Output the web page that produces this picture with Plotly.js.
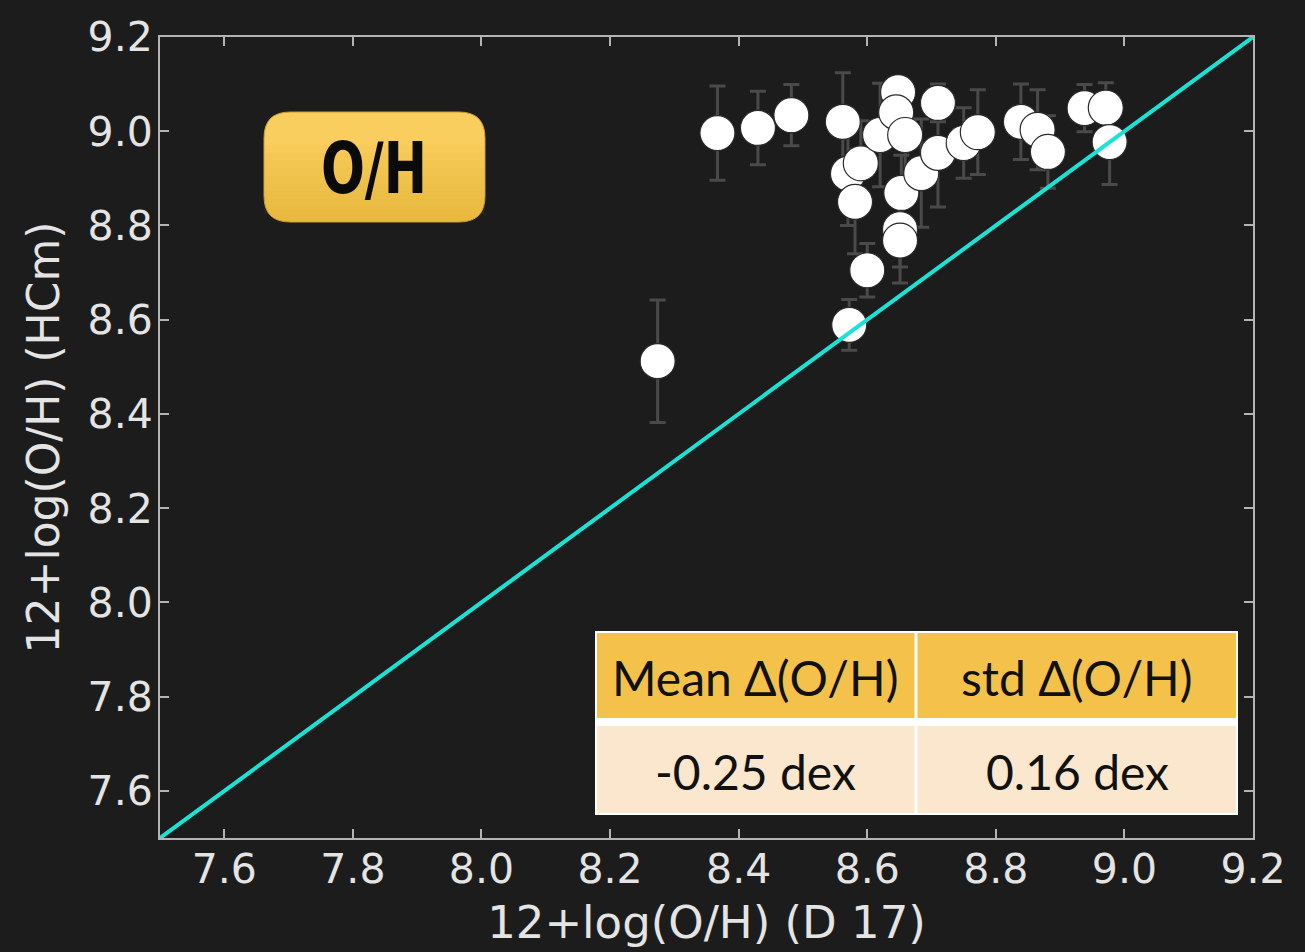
<!DOCTYPE html>
<html>
<head>
<meta charset="utf-8">
<script src="https://cdn.plot.ly/plotly-3.0.1.min.js"></script>
<style>
  html, body { margin: 0; padding: 0; background: #1c1c1c; }
  #chart { width: 1305px; height: 952px; }
</style>
</head>
<body>
<div id="chart"></div>
<script>
// ---- data ----
const ohD17 = [8.274, 8.367, 8.430, 8.482, 8.562, 8.570, 8.590, 8.581, 8.600, 8.572,
               8.620, 8.648, 8.645, 8.659, 8.653, 8.651, 8.651, 8.684, 8.710, 8.710,
               8.750, 8.772, 8.839, 8.865, 8.881, 8.938, 8.971, 8.977];
const ohHCm = [8.512, 8.996, 9.007, 9.034, 9.020, 8.910, 8.932, 8.850, 8.705, 8.589,
               8.992, 9.083, 9.040, 8.992, 8.869, 8.792, 8.768, 8.911, 9.060, 8.954,
               8.975, 8.998, 9.020, 9.003, 8.956, 9.049, 9.050, 8.977];
const ohHCmErr = [0.13, 0.10, 0.078, 0.065, 0.104, 0.11, 0.09, 0.11, 0.057, 0.054,
                  0.11, 0.03, 0.05, 0.09, 0.08, 0.08, 0.09, 0.115, 0.04, 0.115,
                  0.075, 0.09, 0.08, 0.085, 0.077, 0.05, 0.053, 0.09];
const oneToOne = [7.5, 9.2];
const tickValues = [7.6, 7.8, 8.0, 8.2, 8.4, 8.6, 8.8, 9.0, 9.2];
const badgeLabel = 'O/H';
const tableHeader = ['Mean Δ(O/H)', 'std Δ(O/H)'];
const tableValues = ['-0.25 dex', '0.16 dex'];
const xTitle = '12+log(O/H) (D 17)';
const yTitle = '12+log(O/H) (HCm)';

// ---- layout geometry (pixels) ----
const W = 1305, H = 952;
const M = {l: 160, r: 52, t: 37, b: 114};
const PW = W - M.l - M.r, PH = H - M.t - M.b;
const px = x => (x - M.l) / PW;          // pixel x -> paper
const py = y => (H - M.b - y) / PH;      // pixel y -> paper

// rounded-rect path (pixel inputs), optional flags for rounding top / bottom corners
function roundRect(x0, y0, x1, y1, r, roundTop = true, roundBottom = true) {
  const X0 = px(x0), X1 = px(x1), Y0 = py(y0), Y1 = py(y1);
  const rx = r / PW, ry = r / PH;
  let p = '';
  if (roundTop) {
    p += `M ${X0 + rx} ${Y0} L ${X1 - rx} ${Y0} Q ${X1} ${Y0} ${X1} ${Y0 - ry} `;
  } else {
    p += `M ${X0} ${Y0} L ${X1} ${Y0} `;
  }
  if (roundBottom) {
    p += `L ${X1} ${Y1 + ry} Q ${X1} ${Y1} ${X1 - rx} ${Y1} L ${X0 + rx} ${Y1} Q ${X0} ${Y1} ${X0} ${Y1 + ry} `;
  } else {
    p += `L ${X1} ${Y1} L ${X0} ${Y1} `;
  }
  if (roundTop) {
    p += `L ${X0} ${Y0 - ry} Q ${X0} ${Y0} ${X0 + rx} ${Y0} Z`;
  } else {
    p += `Z`;
  }
  return p;
}

const bg = '#1c1c1c';
const axisGray = '#b4b4b4';
const textGray = '#e4e4e4';

const traces = [
  {
    type: 'scatter', mode: 'markers',
    x: ohD17, y: ohHCm,
    error_y: {type: 'data', array: ohHCmErr, visible: true, color: '#4a4a4a', thickness: 3, width: 8},
    marker: {size: 35, color: '#ffffff', line: {color: '#2a2a2a', width: 1.2}},
    hoverinfo: 'skip', showlegend: false
  },
  {
    type: 'scatter', mode: 'lines',
    x: oneToOne, y: oneToOne,
    line: {color: '#19e3d6', width: 4},
    hoverinfo: 'skip', showlegend: false
  }
];

// badge geometry
const bx0 = 264, bx1 = 485, by0 = 112, by1 = 222, br = 26;
const shapes = [
  {type: 'path', xref: 'paper', yref: 'paper', path: roundRect(bx0, by0, bx1, by1, br),
   fillcolor: '#f9cd5e', line: {color: '#c99a2e', width: 1}, layer: 'above'}
];
// vertical gradient: darker toward the bottom, via stacked translucent bands
const bandCount = 10;
for (let i = 1; i <= bandCount; i++) {
  const top = by0 + (by1 - by0) * (0.3 + 0.7 * (i - 1) / bandCount);
  shapes.push({type: 'path', xref: 'paper', yref: 'paper',
    path: roundRect(bx0 + 0.5, top, bx1 - 0.5, by1 - 0.5, br, false, true),
    fillcolor: 'rgba(228,165,35,0.06)', line: {width: 0}, layer: 'above'});
}

// table geometry
const tx0 = 595, tx1 = 1238, tmid = 916;
const ty0 = 631, tyh0 = 718, tyh1 = 726, ty1 = 815;
shapes.push(
  {type: 'rect', xref: 'paper', yref: 'paper', x0: px(tx0), x1: px(tx1), y0: py(ty0), y1: py(ty1),
   fillcolor: '#ffffff', line: {width: 0}, layer: 'above'},
  {type: 'rect', xref: 'paper', yref: 'paper', x0: px(tx0 + 2), x1: px(tmid - 1.5), y0: py(ty0 + 2), y1: py(tyh0),
   fillcolor: '#f4c14b', line: {width: 0}, layer: 'above'},
  {type: 'rect', xref: 'paper', yref: 'paper', x0: px(tmid + 1.5), x1: px(tx1 - 2), y0: py(ty0 + 2), y1: py(tyh0),
   fillcolor: '#f4c14b', line: {width: 0}, layer: 'above'},
  {type: 'rect', xref: 'paper', yref: 'paper', x0: px(tx0 + 2), x1: px(tmid - 1.5), y0: py(tyh1), y1: py(ty1 - 2),
   fillcolor: '#fae7cd', line: {width: 0}, layer: 'above'},
  {type: 'rect', xref: 'paper', yref: 'paper', x0: px(tmid + 1.5), x1: px(tx1 - 2), y0: py(tyh1), y1: py(ty1 - 2),
   fillcolor: '#fae7cd', line: {width: 0}, layer: 'above'}
);

const tableFont = {family: 'Lato, "Open Sans", sans-serif', size: 48, color: '#111111'};
const annotations = [
  {xref: 'paper', yref: 'paper', x: px(374), y: py(168), text: badgeLabel, showarrow: false,
   xanchor: 'center', yanchor: 'middle',
   font: {family: '"DejaVu Sans", sans-serif', size: 72, weight: 'bold', color: '#0a0a0a'}},
  {xref: 'paper', yref: 'paper', x: px((tx0 + tmid) / 2), y: py(677), text: tableHeader[0], showarrow: false,
   xanchor: 'center', yanchor: 'middle', font: tableFont},
  {xref: 'paper', yref: 'paper', x: px((tmid + tx1) / 2), y: py(677), text: tableHeader[1], showarrow: false,
   xanchor: 'center', yanchor: 'middle', font: tableFont},
  {xref: 'paper', yref: 'paper', x: px((tx0 + tmid) / 2), y: py(771), text: tableValues[0], showarrow: false,
   xanchor: 'center', yanchor: 'middle', font: tableFont},
  {xref: 'paper', yref: 'paper', x: px((tmid + tx1) / 2), y: py(771), text: tableValues[1], showarrow: false,
   xanchor: 'center', yanchor: 'middle', font: tableFont}
];

const axisCommon = {
  range: [7.5, 9.2], tickvals: tickValues, tickformat: '.1f',
  ticks: 'inside', ticklen: 9, tickwidth: 2, tickcolor: axisGray,
  showline: true, linecolor: axisGray, linewidth: 2, mirror: 'ticks',
  showgrid: false, zeroline: false,
  tickfont: {family: '"DejaVu Sans", sans-serif', size: 41, color: textGray}
};

const layout = {
  width: W, height: H,
  margin: M,
  paper_bgcolor: bg, plot_bgcolor: bg,
  showlegend: false,
  xaxis: Object.assign({}, axisCommon, {
    ticklabelstandoff: -6,
    title: {text: xTitle, font: {family: '"DejaVu Sans", sans-serif', size: 45, color: textGray}, standoff: 14}
  }),
  yaxis: Object.assign({}, axisCommon, {
    ticklabelstandoff: -3,
    title: {text: yTitle, font: {family: '"DejaVu Sans", sans-serif', size: 44, color: textGray}, standoff: 14}
  }),
  shapes: shapes,
  annotations: annotations
};

Plotly.newPlot('chart', traces, layout, {staticPlot: true, displayModeBar: false}).then(gd => {
  // squeeze the badge label into the narrow, tall proportions of the reference lettering
  gd.querySelectorAll('.annotation-text').forEach(t => {
    if (t.textContent === badgeLabel) {
      t.setAttribute('textLength', '106');
      t.setAttribute('lengthAdjust', 'spacingAndGlyphs');
    }
  });
});
</script>
</body>
</html>
